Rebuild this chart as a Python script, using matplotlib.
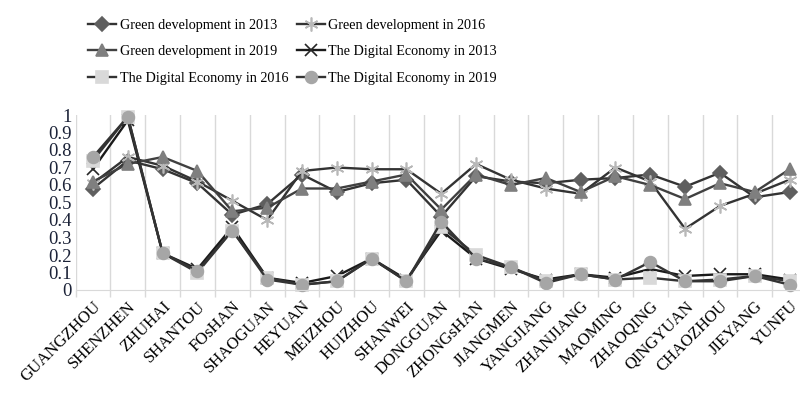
import matplotlib
matplotlib.use("Agg")
import matplotlib.pyplot as plt
import numpy as np

plt.rcParams['font.family'] = ['Liberation Serif', 'DejaVu Serif']

cities = ['GUANGZHOU', 'SHENZHEN', 'ZHUHAI', 'SHANTOU', 'FOsHAN', 'SHAOGUAN',
          'HEYUAN', 'MEIZHOU', 'HUIZHOU', 'SHANWEI', 'DONGGUAN', 'ZHONGsHAN',
          'JIANGMEN', 'YANGJIANG', 'ZHANJIANG', 'MAOMING', 'ZHAOQING',
          'QINGYUAN', 'CHAOZHOU', 'JIEYANG', 'YUNFU']

green_2013 = [0.58, 0.74, 0.69, 0.61, 0.43, 0.49, 0.66, 0.56, 0.61, 0.63, 0.42,
              0.65, 0.62, 0.61, 0.63, 0.64, 0.66, 0.59, 0.67, 0.53, 0.56]
green_2016 = [0.61, 0.76, 0.71, 0.62, 0.51, 0.40, 0.68, 0.70, 0.69, 0.69, 0.55,
              0.72, 0.63, 0.58, 0.55, 0.70, 0.62, 0.35, 0.48, 0.55, 0.63]
green_2019 = [0.62, 0.72, 0.76, 0.68, 0.45, 0.47, 0.58, 0.58, 0.62, 0.66, 0.46,
              0.66, 0.60, 0.64, 0.56, 0.65, 0.60, 0.52, 0.61, 0.56, 0.69]
digital_2013 = [0.69, 0.97, 0.21, 0.12, 0.36, 0.07, 0.04, 0.08, 0.18, 0.06, 0.34,
                0.18, 0.12, 0.06, 0.09, 0.07, 0.12, 0.08, 0.09, 0.09, 0.06]
digital_2016 = [0.74, 0.99, 0.21, 0.10, 0.34, 0.07, 0.03, 0.05, 0.18, 0.05, 0.36,
                0.20, 0.13, 0.05, 0.09, 0.06, 0.07, 0.05, 0.06, 0.08, 0.05]
digital_2019 = [0.76, 0.99, 0.21, 0.11, 0.34, 0.06, 0.03, 0.05, 0.18, 0.05, 0.39,
                0.18, 0.13, 0.04, 0.09, 0.06, 0.16, 0.05, 0.05, 0.08, 0.03]

x = np.arange(len(cities))

fig = plt.figure(figsize=(8, 4.01), dpi=100)
# plot area runs a little past the right edge of the picture, like the original
ax = fig.add_axes([75.6 / 800, 111 / 401, (807 - 75.6) / 800, 175 / 401])

series = [
    ('Green development in 2013', green_2013, 'D', '#5f5f5f', '#333333', 7),
    ('Green development in 2016', green_2016, (6, 2, 0), '#b8b8b8', '#333333', 10),
    ('Green development in 2019', green_2019, '^', '#7f7f7f', '#404040', 8.5),
    ('The Digital Economy in 2013', digital_2013, 'x', '#262626', '#1a1a1a', 8),
    ('The Digital Economy in 2016', digital_2016, 's', '#d9d9d9', '#333333', 8),
    ('The Digital Economy in 2019', digital_2019, 'o', '#a6a6a6', '#333333', 8.5),
]
lines = []
for label, vals, mk, mcol, lcol, ms in series:
    ln, = ax.plot(x, vals, color=lcol, lw=1.7, marker=mk, markersize=ms,
                  markerfacecolor=mcol, markeredgecolor=mcol, markeredgewidth=1.2,
                  label=label, clip_on=False)
    lines.append(ln)

ax.set_xlim(-0.5, len(cities) - 0.5)
ax.set_ylim(0, 1)
ax.set_yticks(np.arange(0, 1.01, 0.1))
ax.set_yticklabels(['0', '0.1', '0.2', '0.3', '0.4', '0.5', '0.6', '0.7', '0.8', '0.9', '1'])

ax.set_xticks(x)
ax.set_xticklabels(cities, rotation=45, ha='right', rotation_mode='anchor', fontsize=12)
ax.set_xticks(np.arange(-0.5, len(cities), 1), minor=True)
ax.tick_params(axis='x', which='major', length=0, pad=6)
ax.tick_params(axis='x', which='minor', length=5, color='#d9d9d9', width=1)
ax.tick_params(axis='y', length=0, labelsize=13.5, pad=3, labelcolor='#1c2338')
ax.grid(axis='x', which='minor', color='#d9d9d9', lw=1)
ax.set_axisbelow(True)

for s in ['top', 'right', 'left']:
    ax.spines[s].set_visible(False)
ax.spines['bottom'].set_color('#d9d9d9')

# legend filled row by row as in the original
order = [0, 2, 4, 1, 3, 5]
fig.legend([lines[i] for i in order], [series[i][0] for i in order],
           loc='upper left', bbox_to_anchor=(75 / 800, 1 - 6 / 401), ncol=2,
           frameon=False, fontsize=10.2, handlelength=2.0, handletextpad=0.25,
           columnspacing=0.6, labelspacing=0.95)

fig.savefig('out.png', dpi=100)
